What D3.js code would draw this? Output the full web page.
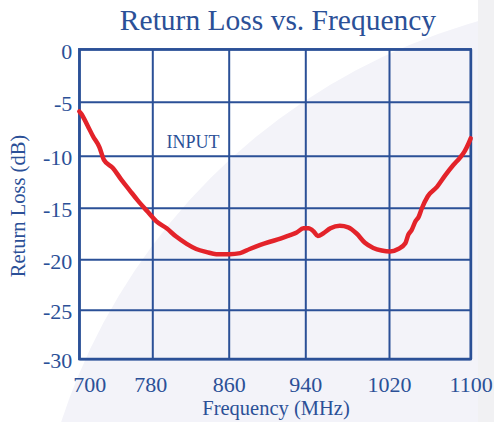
<!DOCTYPE html>
<html>
<head>
<meta charset="utf-8">
<script src="https://cdn.jsdelivr.net/npm/d3@7"></script>
<style>
  body { margin: 0; background: #ffffff; }
  svg { display: block; }
  text { font-family: "Liberation Serif", "DejaVu Serif", serif; fill: #2b5097; }
</style>
</head>
<body>
<div id="chart"></div>
<script>
// frequency (MHz) and return loss (dB)
var freqs = [700, 702, 709, 715, 722, 727, 737, 746, 755, 764, 775, 784, 795, 805, 816, 826, 837, 847,
             861, 872, 882, 893, 903, 914, 924, 931, 938, 943, 948, 952, 957, 964, 973, 981, 989, 997,
             1005, 1013, 1021, 1029, 1036, 1039, 1042, 1046, 1049, 1052, 1058, 1067, 1075, 1083, 1089,
             1094, 1098, 1100];
var returnLoss = [-5.9, -6.1, -7.2, -8.2, -9.2, -10.4, -11.2, -12.3, -13.3, -14.3, -15.4, -16.3, -17.0,
             -17.8, -18.5, -19.0, -19.3, -19.5, -19.5, -19.4, -19.0, -18.6, -18.3, -18.0, -17.65, -17.4,
             -17.0, -17.0, -17.3, -17.75, -17.5, -17.0, -16.75, -16.9, -17.5, -18.4, -18.9, -19.15, -19.25,
             -19.0, -18.45, -17.6, -17.2, -16.3, -15.9, -15.1, -13.9, -13.0, -11.9, -10.9, -10.25, -9.6,
             -8.85, -8.4];
var xTicks = [700, 780, 860, 940, 1020, 1100];
var yTicks = [0, -5, -10, -15, -20, -25, -30];

var width = 494, height = 422;
var gridColor = "#2b5097";

var svg = d3.select("#chart").append("svg")
    .attr("width", width)
    .attr("height", height);

// background swoosh
svg.append("rect").attr("width", width).attr("height", height).attr("fill", "#ffffff");
svg.append("circle")
    .attr("cx", 645).attr("cy", 612).attr("r", 614)
    .attr("fill", "#f3f3f9");
svg.append("rect")
    .attr("x", 478).attr("y", 0).attr("width", width - 478).attr("height", height)
    .attr("fill", "#f1f1f3");

// the original grid is not evenly spaced, so use piecewise scales
var x = d3.scaleLinear()
    .domain(xTicks)
    .range([79.3, 152.3, 228.7, 305.3, 389, 470.7]);
var y = d3.scaleLinear()
    .domain(yTicks)
    .range([49.3, 101.7, 155.7, 207.7, 259.3, 309.7, 359]);

var plotLeft = x(700), plotRight = x(1100), plotTop = y(0), plotBottom = y(-30);
var plainFormat = function(d) { return String(d); };   // hyphen minus like the original

// vertical grid + x labels
var xAxis = svg.append("g")
    .attr("transform", "translate(0," + plotBottom + ")")
    .call(d3.axisBottom(x).tickValues(xTicks).tickSize(-(plotBottom - plotTop)).tickPadding(17).tickFormat(plainFormat));
xAxis.select(".domain").remove();
xAxis.selectAll("line").attr("stroke", gridColor).attr("stroke-width", 2);
xAxis.selectAll("text")
    .attr("font-size", "22px")
    .attr("fill", gridColor)
    .attr("dx", function(d) { return d == 700 ? 10 : (d == 780 ? -2 : 0); });

// horizontal grid + y labels
var yAxis = svg.append("g")
    .attr("transform", "translate(" + plotLeft + ",0)")
    .call(d3.axisLeft(y).tickValues(yTicks).tickSize(-(plotRight - plotLeft)).tickPadding(7).tickFormat(plainFormat));
yAxis.select(".domain").remove();
yAxis.selectAll("line").attr("stroke", gridColor).attr("stroke-width", 2);
yAxis.selectAll("text")
    .attr("font-size", "22px")
    .attr("fill", gridColor)
    .attr("dy", "0.4em");

// frame
svg.append("rect")
    .attr("x", plotLeft).attr("y", plotTop)
    .attr("width", plotRight - plotLeft).attr("height", plotBottom - plotTop)
    .attr("fill", "none")
    .attr("stroke", gridColor)
    .attr("stroke-width", 2.5);

// curve
var data = freqs.map(function(f, i) { return { f: f, v: returnLoss[i] }; });
var line = d3.line()
    .x(function(d) { return x(d.f); })
    .y(function(d) { return y(d.v); })
    .curve(d3.curveMonotoneX);

svg.append("path")
    .datum(data)
    .attr("d", line)
    .attr("fill", "none")
    .attr("stroke", "#e3232a")
    .attr("stroke-width", 4.5)
    .attr("stroke-linejoin", "round")
    .attr("stroke-linecap", "round");

// texts
svg.append("text")
    .attr("x", 278).attr("y", 30)
    .attr("text-anchor", "middle")
    .attr("font-size", "29.5px")
    .text("Return Loss vs. Frequency");

svg.append("text")
    .attr("x", 276).attr("y", 415)
    .attr("text-anchor", "middle")
    .attr("font-size", "20.5px")
    .text("Frequency (MHz)");

svg.append("text")
    .attr("transform", "translate(25,206) rotate(-90)")
    .attr("text-anchor", "middle")
    .attr("font-size", "20.5px")
    .text("Return Loss (dB)");

svg.append("text")
    .attr("x", 193).attr("y", 148)
    .attr("text-anchor", "middle")
    .attr("font-size", "18px")
    .text("INPUT");
</script>
</body>
</html>
